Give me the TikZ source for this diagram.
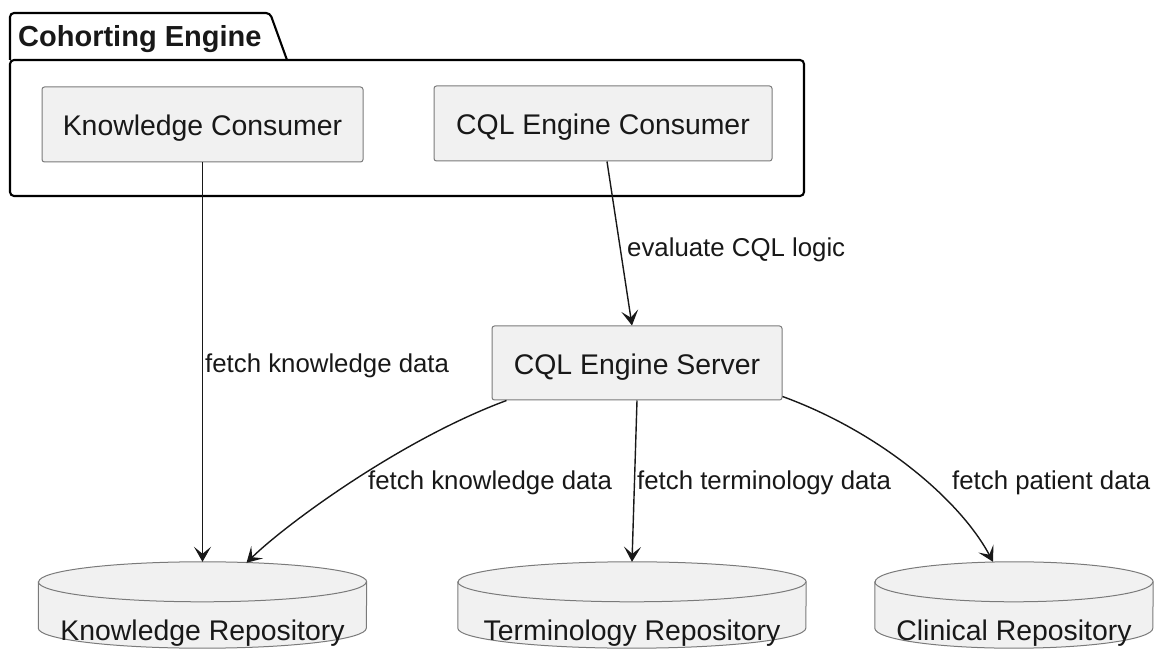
\documentclass[tikz,border=0pt]{standalone}
\usepackage{fontspec}
\setmainfont{Liberation Sans}
\usetikzlibrary{arrows.meta,calc}
\definecolor{boxfill}{HTML}{F1F1F1}
\definecolor{ink}{HTML}{181818}
\definecolor{edge}{HTML}{7A7A7A}

% repository cylinder: name, centre x, width, half width, caption
\newcommand\repository[5]{%
  \node[db, minimum width=#3pt] (#1) at (#2,43) {};
  \path[dbshape] ($(#1.north west)+(0,-20)$) -- ($(#1.south west)+(0,20)$)
    arc[start angle=180, end angle=360, x radius=#4, y radius=20]
    -- ($(#1.north east)+(0,-20)$)
    arc[start angle=0, end angle=180, x radius=#4, y radius=20] -- cycle;
  \draw[dbline] ($(#1.north west)+(0,-20)$)
    arc[start angle=180, end angle=360, x radius=#4, y radius=20];
  \node[dbtext] (#1-caption) at (#1.center |- 0,8) {#5};
}

\begin{document}
\begin{tikzpicture}[x=1pt, y=1pt,
  comp/.style={draw=edge, line width=1pt, fill=boxfill, rounded corners=2.5pt,
    inner sep=0pt, text=ink, font=\fontsize{28.4}{34}\selectfont,
    text height=23pt, text depth=0pt},
  db/.style={inner sep=0pt, minimum height=86pt},
  dbshape/.style={draw=edge, line width=1pt, fill=boxfill},
  dbline/.style={draw=edge, line width=1pt},
  dbtext/.style={inner sep=0pt, anchor=base, text=ink,
    font=\fontsize{28.4}{34}\selectfont},
  flow/.style={draw=ink, line width=1.4pt,
    -{Stealth[length=15pt, width=17pt, inset=7pt]}},
  lbl/.style={inner sep=0pt, anchor=base west, text=ink,
    font=\fontsize{25.8}{30}\selectfont},
  pkg/.style={draw=black, line width=2.1pt, rounded corners=4pt}
]
\useasboundingbox (0,0) rectangle (1159,648);

% package frame with its tab
\draw[pkg] (10,452) rectangle (804,588);
\draw[pkg] (10,588) -- (10,635) -- (270,635) -- (287,588);
\node[anchor=base west, inner sep=0pt, text=ink,
  font=\bfseries\fontsize{29}{34}\selectfont] (pkgtitle) at (18,601) {Cohorting Engine};

% components
\node[comp, minimum width=321pt, minimum height=75pt] (kc) at (202.5,523.5) {Knowledge Consumer};
\node[comp, minimum width=338pt, minimum height=75pt] (cec) at (603,524.5) {CQL Engine Consumer};
\node[comp, minimum width=290pt, minimum height=74pt] (ces) at (637,285) {CQL Engine Server};

% repositories
\repository{kr}{202.5}{328}{164}{Knowledge Repository}
\repository{tr}{632}{348}{174}{Terminology Repository}
\repository{cr}{1014}{278}{139}{Clinical Repository}

% connectors
\draw[flow] (kc.south) -- (kr.north);
\draw[flow] ($(cec.south)+(4,0)$) -- ($(ces.north)+(-5,0)$);
\draw[flow] (ces.south) -- (tr.north);
\draw[flow] ($(ces.south west)+(15,0)$) .. controls (400,208) and (285,123) .. ($(kr.north)+(44,-1)$);
\draw[flow] ($(ces.south east)+(0,4)$) .. controls (880,216) and (960,148) .. ($(cr.north)+(-21,0)$);

% connector labels
\node[lbl] (l1) at (205,275) {fetch knowledge data};
\node[lbl] (l2) at (627,391) {evaluate CQL logic};
\node[lbl] (l3) at (368,158) {fetch knowledge data};
\node[lbl] (l4) at (637,158) {fetch terminology data};
\node[lbl] (l5) at (952,158) {fetch patient data};
\end{tikzpicture}
\end{document}
